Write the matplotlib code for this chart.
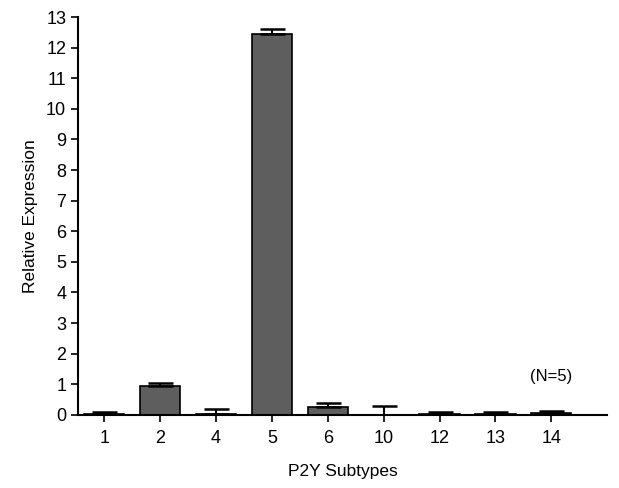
import numpy as np
import matplotlib.pyplot as plt

plt.rcParams['font.family'] = ['Liberation Sans', 'DejaVu Sans']

subtypes = ['1', '2', '4', '5', '6', '10', '12', '13', '14']
expression = [0.01, 0.95, 0.02, 12.45, 0.26, 0.0, 0.03, 0.03, 0.06]
errors = [0.07, 0.1, 0.17, 0.15, 0.12, 0.3, 0.07, 0.07, 0.05]

fig = plt.figure(figsize=(6.19, 4.88), dpi=100)
ax = fig.add_axes([0.126, 0.15, 0.855, 0.815])

x = np.arange(len(subtypes))
ax.bar(x, expression, width=0.72, color='#5e5e5e', edgecolor='black', linewidth=1.2)
ax.errorbar(x, expression, yerr=[np.zeros(len(errors)), errors], fmt='none',
            ecolor='black', elinewidth=1.5, capsize=9, capthick=1.8)

ax.set_xlim(-0.47, 9.0)
ax.set_ylim(0, 13)
ax.set_yticks(range(0, 14))
ax.set_xticks(x)
ax.set_xticklabels(subtypes)
ax.tick_params(labelsize=13, width=1.2, length=5)
ax.tick_params(axis='x', pad=6)
ax.spines['top'].set_visible(False)
ax.spines['right'].set_visible(False)
ax.spines['left'].set_linewidth(1.5)
ax.spines['bottom'].set_linewidth(1.5)
ax.set_ylabel('Relative Expression', fontsize=12.5, labelpad=6)
ax.set_xlabel('P2Y Subtypes', fontsize=12.5, labelpad=12)
ax.text(8.0, 1.1, '(N=5)', fontsize=12, ha='center')

fig.savefig('out.png', dpi=100)
